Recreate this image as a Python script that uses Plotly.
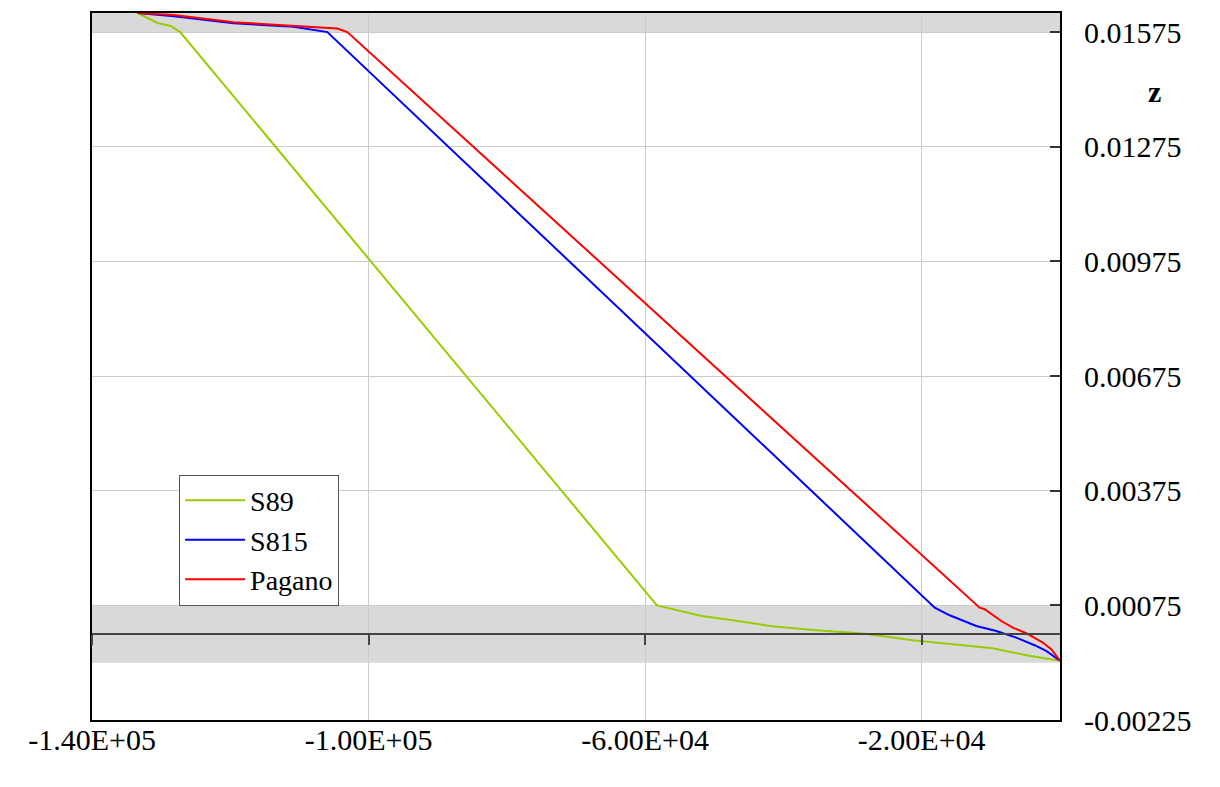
import plotly.graph_objects as go

# through-thickness data: x = value, z = position
s89_x = [-133400, -130500, -128600, -127250, -58300, -55950, -51800, -47300,
         -41950, -35750, -28500, -21300, -9750, -4880, 0]
s89_z = [0.01625, 0.01599, 0.01591, 0.01575, 0.00075, 0.000646, 0.000471, 0.000359,
         0.00021, 0.000106, 0.000012, -0.000163, -0.000372, -0.000554, -0.0007]

s815_x = [-133400, -128150, -119500, -110830, -105960, -18120, -15960, -14270,
          -12100, -9210, -6330, -3680, -1990, 0]
s815_z = [0.01625, 0.016167, 0.015985, 0.015888, 0.01575, 0.00069, 0.00049, 0.000367,
          0.00021, 0.00008, -0.000093, -0.000293, -0.000442, -0.0007]

pagano_x = [-133400, -128150, -119500, -110830, -104520, -103070, -11620, -10900,
            -8490, -6820, -4880, -2480, -1270, 0]
pagano_z = [0.01625, 0.016195, 0.01601, 0.015915, 0.015846, 0.01575, 0.00069, 0.00065,
            0.00034, 0.000168, 0.00002, -0.000223, -0.000398, -0.0007]

# face layers (z ranges)
layer_bounds = [(-0.00075, 0.00075), (0.01575, 0.01625)]

x_tickvals = [-140000, -100000, -60000, -20000]
x_ticktext = ["-1.40E+05", "-1.00E+05", "-6.00E+04", "-2.00E+04"]

z_tickvals = [-0.00225, 0.00075, 0.00375, 0.00675, 0.00975, 0.01275, 0.01575]
z_ticktext = ["-0.00225", "0.00075", "0.00375", "0.00675", "0.00975", "0.01275", "0.01575"]

x_range = [-140000, 0]
z_range = [-0.00225, 0.01625]

font = '"Liberation Serif", "Times New Roman", serif'

fig = go.Figure()
fig.add_trace(go.Scatter(x=s89_x, y=s89_z, mode="lines", name="S89",
                         line=dict(color="#99cc00", width=2)))
fig.add_trace(go.Scatter(x=s815_x, y=s815_z, mode="lines", name="S815",
                         line=dict(color="#0000ff", width=2)))
fig.add_trace(go.Scatter(x=pagano_x, y=pagano_z, mode="lines", name="Pagano",
                         line=dict(color="#ff0000", width=2)))
# carrier for the axis drawn along z = 0
fig.add_trace(go.Scatter(x=[], y=[], xaxis="x2", showlegend=False, hoverinfo="skip"))

for lo, hi in layer_bounds:
    fig.add_shape(type="rect", xref="paper", yref="y", x0=0, x1=1, y0=lo, y1=hi,
                  fillcolor="#d9d9d9", line=dict(width=0), layer="below")

zero_pos = (0 - z_range[0]) / (z_range[1] - z_range[0])

fig.update_layout(
    width=1220, height=787,
    margin=dict(l=84, r=168, t=3, b=75),
    paper_bgcolor="white", plot_bgcolor="white",
    font=dict(family=font, size=30, color="black"),
    showlegend=True,
    legend=dict(x=0.09, y=0.347, xanchor="left", yanchor="top",
                bgcolor="white", bordercolor="#555555", borderwidth=1,
                font=dict(family=font, size=28), tracegroupgap=0,
                itemwidth=60),
    xaxis=dict(range=x_range, tickvals=x_tickvals, ticktext=x_ticktext,
               showgrid=True, gridcolor="#cccccc", gridwidth=1,
               showline=True, linecolor="black", linewidth=2, mirror=True,
               ticks="", zeroline=False, ticklabelstandoff=-8),
    xaxis2=dict(range=x_range, overlaying="x", anchor="free", position=zero_pos,
                tickvals=x_tickvals, showticklabels=False, showgrid=False,
                showline=True, linecolor="#444444", linewidth=2,
                ticks="outside", ticklen=10, tickwidth=1.5, tickcolor="#444444",
                zeroline=False),
    yaxis=dict(range=z_range, side="right", tickvals=z_tickvals, ticktext=z_ticktext,
               showgrid=True, gridcolor="#cccccc", gridwidth=1,
               showline=True, linecolor="black", linewidth=2, mirror=True,
               ticks="inside", ticklen=10, tickwidth=1.5, tickcolor="#333333",
               zeroline=False, ticklabelstandoff=16),
)

fig.add_annotation(text="<b>z</b>", xref="paper", yref="paper", x=1.098, y=0.889,
                   xanchor="center", yanchor="middle", showarrow=False,
                   font=dict(family=font, size=30, color="black"))

fig.write_html("out.html")
